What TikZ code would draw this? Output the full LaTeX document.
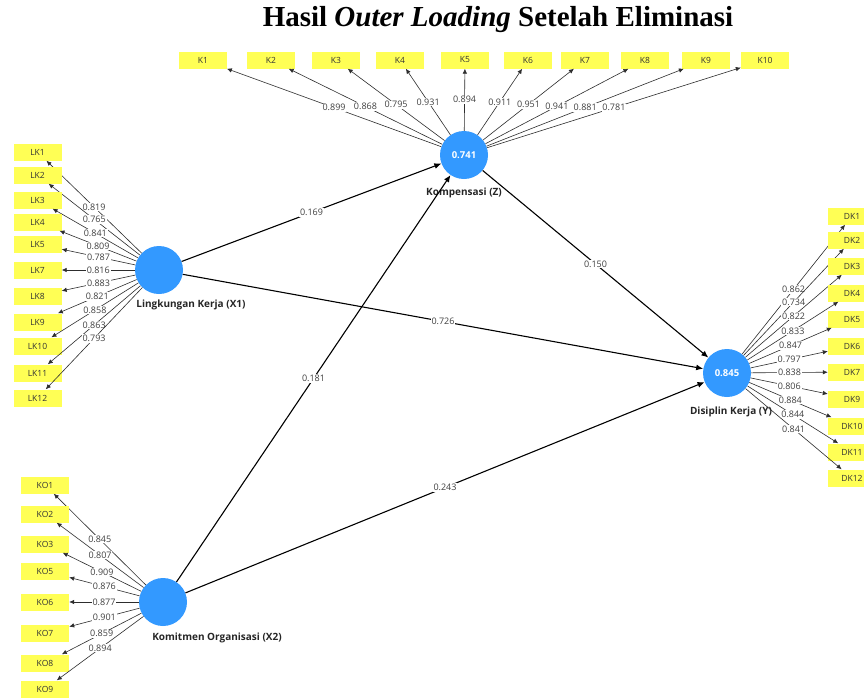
\documentclass[tikz,border=0pt]{standalone}
\usepackage{fontspec}
\newfontfamily\plsfont{Open Sans}
\newfontfamily\titlefont{Liberation Serif}
\usepackage{tikz}
\usetikzlibrary{arrows.meta, positioning}
\definecolor{lvblue}{RGB}{51,153,255}
\definecolor{indyellow}{RGB}{255,255,85}
\definecolor{linegray}{RGB}{45,45,45}

\begin{document}
\begin{tikzpicture}[x=1pt, y=-1pt,
    ind/.style={rectangle, fill=indyellow, minimum width=48pt, minimum height=17pt, inner sep=0pt,
        text=black!80, font=\plsfont\fontsize{8.5}{10}\selectfont},
    lv/.style={circle, fill=lvblue, minimum size=48pt, inner sep=0pt,
        text=white, font=\plsfont\bfseries\fontsize{9.5}{10}\selectfont},
    lvname/.style={text=black!85, font=\plsfont\bfseries\fontsize{10}{11}\selectfont},
    ldg/.style={draw=linegray, line width=0.6pt, -{Latex[length=5pt,width=4.5pt]}},
    coef/.style={draw=black, line width=1.1pt, -{Latex[length=7pt,width=6pt]}},
    val/.style={fill=white, inner sep=0.8pt, text=black!75, font=\plsfont\fontsize{9}{10}\selectfont}]

    \clip (0,0) rectangle (864,697);
    \fill[white] (0,0) rectangle (864,697);

    % Title
    \node[font=\titlefont\bfseries\fontsize{29}{32}\selectfont] (title) at (498,20)
        {Hasil \textit{Outer Loading} Setelah Eliminasi};

    % Latent variables
    \node[lv] (Z) at (464,155) {0.741};
    \node[lv] (X1) at (159,270) {};
    \node[lv] (X2) at (163,602) {};
    \node[lv] (Y) at (727,373) {0.845};
    \node[lvname] (Zname) at (464,193) {Kompensasi (Z)};
    \node[lvname] (X1name) at (191,305) {Lingkungan Kerja (X1)};
    \node[lvname] (X2name) at (217,638) {Komitmen Organisasi (X2)};
    \node[lvname] (Yname) at (731,412) {Disiplin Kerja (Y)};

    % Indicators of Kompensasi (top)
    \foreach \name/\x/\v in {K1/203/0.899, K2/271/0.868, K3/336/0.795, K4/400/0.931, K5/465/0.894,
        K6/528/0.911, K7/585/0.951, K8/645/0.941, K9/706/0.881, K10/765/0.781} {
        \node[ind] (\name) at (\x,60) {\name};
        \draw[ldg] (Z) -- node[val] {\v} (\name);
    }

    % Indicators of Lingkungan Kerja (left)
    \foreach \name/\y/\v in {LK1/152/0.819, LK2/175/0.765, LK3/200/0.841, LK4/222/0.809, LK5/244/0.787,
        LK7/270/0.816, LK8/296/0.883, LK9/322/0.821, LK10/346/0.858, LK11/373/0.863, LK12/398/0.793} {
        \node[ind] (\name) at (37.5,\y) {\name};
        \draw[ldg] (X1) -- node[val] {\v} (\name);
    }

    % Indicators of Komitmen Organisasi (bottom left)
    \foreach \name/\y/\v in {KO1/485/0.845, KO2/514/0.807, KO3/544/0.909, KO5/571/0.876,
        KO6/602/0.877, KO7/633/0.901, KO8/663/0.859, KO9/689/0.894} {
        \node[ind] (\name) at (45,\y) {\name};
        \draw[ldg] (X2) -- node[val] {\v} (\name);
    }

    % Indicators of Disiplin Kerja (right)
    \foreach \name/\y/\v in {DK1/216/0.862, DK2/240/0.734, DK3/266/0.822, DK4/293/0.833, DK5/319/0.847,
        DK6/346/0.797, DK7/372/0.838, DK9/399/0.806, DK10/426/0.884, DK11/452/0.844, DK12/478/0.841} {
        \node[ind] (\name) at (852,\y) {\name};
        \draw[ldg] (Y) -- node[val] {\v} (\name);
    }

    % Inner model
    \draw[coef] (X1) -- node[val] {0.169} (Z);
    \draw[coef] (X1) -- node[val] {0.726} (Y);
    \draw[coef] (X2) -- node[val] {0.181} (Z);
    \draw[coef] (X2) -- node[val] {0.243} (Y);
    \draw[coef] (Z) -- node[val] {0.150} (Y);

\end{tikzpicture}
\end{document}
